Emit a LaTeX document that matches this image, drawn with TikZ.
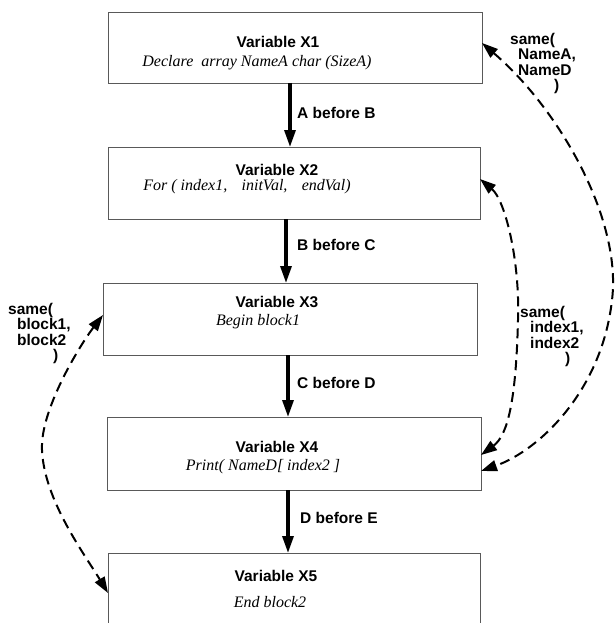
\documentclass[tikz,border=0pt]{standalone}
\usepackage{fontspec}
\setmainfont{Liberation Serif}
\setsansfont{Liberation Sans}
\usetikzlibrary{arrows.meta,calc}
\begin{document}
\begin{tikzpicture}[x=1pt,y=-1pt,
 box/.style={draw=black!65,line width=0.9pt,anchor=north west,inner sep=0pt,outer sep=0pt},
 ttl/.style={font=\fontsize{15.5}{18}\selectfont\sffamily\bfseries,inner sep=0pt},
 sub/.style={font=\fontsize{16}{19}\selectfont\itshape,inner sep=0pt},
 lbl/.style={font=\fontsize{15.5}{18}\selectfont\sffamily\bfseries,inner sep=0pt,anchor=west},
 same/.style={font=\fontsize{15.5}{15.5}\selectfont\sffamily\bfseries,inner sep=0pt,anchor=north west,align=left},
 flow/.style={line width=3.2pt,-{Triangle[length=17pt,width=11pt]}},
 link/.style={line width=2pt,dash pattern=on 10pt off 6pt,{Triangle[length=16pt,width=11pt]}-{Triangle[length=16pt,width=11pt]}},
]
\useasboundingbox (0,0) rectangle (614,623);
% boxes
\node[box,minimum width=374pt,minimum height=71pt] (b1) at (108,12) {};
\node[box,minimum width=372pt,minimum height=72pt] (b2) at (108,147) {};
\node[box,minimum width=374pt,minimum height=72pt] (b3) at (103,283) {};
\node[box,minimum width=374pt,minimum height=73pt] (b4) at (107,417) {};
\node[box,minimum width=372pt,minimum height=80pt] (b5) at (108,553) {};
% texts
\node[ttl] (t1) at (278,42) {Variable X1};
\node[sub] (s1) at (257,63) {Declare\hspace{0.5em}array NameA char (SizeA)};
\node[ttl] (t2) at (277,170) {Variable X2};
\node[sub] (s2) at (247,187) {For ( index1,\hspace{0.9em}initVal,\hspace{0.9em}endVal)};
\node[ttl] (t3) at (277,302) {Variable X3};
\node[sub] (s3) at (258,322) {Begin block1};
\node[ttl] (t4) at (277,447) {Variable X4};
\node[sub] (s4) at (263,467) {Print( NameD[ index2 ]};
\node[ttl] (t5) at (276,576) {Variable X5};
\node[sub] (s5) at (270,602) {End block2};
% flow arrows
\draw[flow] ([xshift=-5pt]b1.south) -- ([xshift=-4pt]b2.north);
\draw[flow] ([xshift=-8pt]b2.south) -- ([xshift=-4pt]b3.north);
\draw[flow] ([xshift=-2pt]b3.south) -- ([xshift=-6pt]b4.north);
\draw[flow] ([xshift=-6pt]b4.south) -- ([xshift=-6pt]b5.north);
\node[lbl] (l1) at (297,113) {A before B};
\node[lbl] (l2) at (297,245) {B before C};
\node[lbl] (l3) at (297,383) {C before D};
\node[lbl] (l4) at (300,518) {D before E};
% dashed links
\draw[link] ([yshift=4.5pt]b1.east) .. controls (560,110) and (622,220) .. (612,300) .. controls (602,390) and (540,450) .. ([yshift=-17.5pt]b4.east);
\draw[link] ([yshift=4pt]b2.east) .. controls (505,200) and (520,260) .. (518,320) .. controls (516,400) and (508,435) .. ([yshift=-1.5pt]b4.east);
\draw[link] ([yshift=4pt]b3.west) .. controls (80,345) and (40,410) .. (42,450) .. controls (44,500) and (85,555) .. ([yshift=-40pt]b5.north west);
% link labels
\node[same] (n1) at (510,33) {same(\\\hspace{8pt}NameA,\\\hspace{8pt}NameD\\\hspace{44pt})};
\node[same] (n2) at (520,306) {same(\\\hspace{10pt}index1,\\\hspace{10pt}index2\\\hspace{45pt})};
\node[same] (n3) at (8,303) {same(\\\hspace{9pt}block1,\\\hspace{9pt}block2\\\hspace{45pt})};
\end{tikzpicture}
\end{document}
